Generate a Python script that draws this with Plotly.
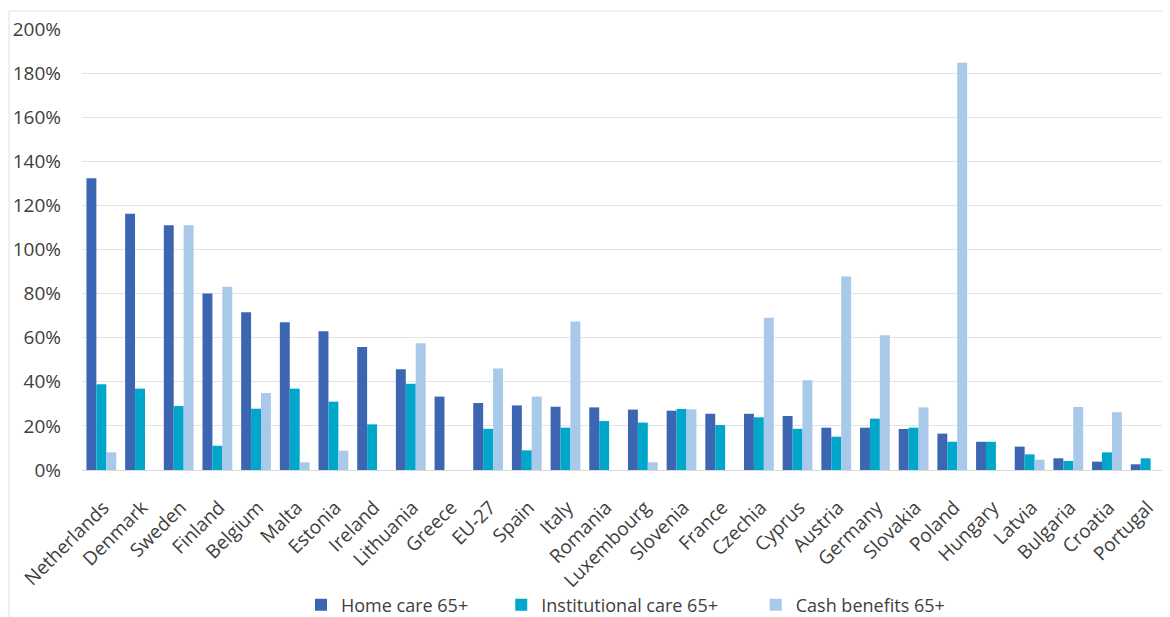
import plotly.graph_objects as go

countries = ["Netherlands", "Denmark", "Sweden", "Finland", "Belgium", "Malta", "Estonia",
             "Ireland", "Lithuania", "Greece", "EU-27", "Spain", "Italy", "Romania",
             "Luxembourg", "Slovenia", "France", "Czechia", "Cyprus", "Austria", "Germany",
             "Slovakia", "Poland", "Hungary", "Latvia", "Bulgaria", "Croatia", "Portugal"]

home_care = [132.3, 116.2, 111.0, 80.1, 71.5, 67.0, 62.9, 55.8, 45.7, 33.3, 30.4, 29.3, 28.7, 28.4,
             27.4, 26.9, 25.5, 25.5, 24.5, 19.2, 19.2, 18.6, 16.5, 12.8, 10.6, 5.3, 3.8, 2.6]
institutional_care = [38.9, 36.9, 29.0, 11.0, 27.8, 36.9, 31.0, 20.7, 39.1, None, 18.7, 8.9, 19.2, 22.2,
                      21.5, 27.7, 20.4, 23.9, 18.7, 15.1, 23.3, 19.2, 12.8, 12.8, 7.1, 4.1, 8.0, 5.3]
cash_benefits = [8.0, None, 111.0, 83.1, 34.9, 3.5, 8.8, None, 57.5, None, 46.0, 33.3, 67.4, None,
                 3.5, 27.5, None, 69.1, 40.7, 87.8, 61.1, 28.4, 184.7, None, 4.7, 28.6, 26.2, None]

y_ticks = [0, 20, 40, 60, 80, 100, 120, 140, 160, 180, 200]

NB = "\u00a0"
series = [
    ("Home care 65+", home_care, "#3D66B2", NB * 6),
    ("Institutional care 65+", institutional_care, "#00A7CB", NB * 7),
    ("Cash benefits 65+", cash_benefits, "#A9C9EB", ""),
]

fig = go.Figure()
for name, vals, col, pad in series:
    fig.add_trace(go.Bar(x=countries, y=vals, name=name + pad, marker_color=col,
                         marker_line_width=0))

W, H = 1162, 609
font_fam = "Open Sans, Lato, sans-serif"
fig.update_layout(
    width=W, height=H,
    margin=dict(l=74, r=5, t=21, b=147, autoexpand=False),
    paper_bgcolor="white", plot_bgcolor="white",
    barmode="group", bargap=0.23, bargroupgap=0,
    font=dict(family=font_fam, color="#404040", size=18),
    showlegend=True,
    legend=dict(orientation="h", xref="container", yref="container",
                x=293 / W, xanchor="left", y=(H - 597) / H, yanchor="middle",
                font=dict(size=18, color="#404040"), itemwidth=30, traceorder="normal"),
    xaxis=dict(tickangle=-45, tickfont=dict(size=19, color="#404040"), showline=True,
               linecolor="#D9D9D9", linewidth=1, ticks="", showgrid=False,
               automargin=False, ticklabelstandoff=18, ticklabelshift=2),
    yaxis=dict(range=[0, 200], tickvals=y_ticks, ticktext=[f"{v}%" for v in y_ticks],
               tickfont=dict(size=19, color="#404040"), showgrid=True, gridcolor="#E4E4E4",
               gridwidth=1, zeroline=False, ticks="", showline=False,
               automargin=False, ticklabelstandoff=20),
    shapes=[
        dict(type="line", xref="paper", yref="paper", x0=-0.0674, x1=1.01, y0=1.0408, y1=1.0408,
             line=dict(color="#E0E0E0", width=1)),
        dict(type="line", xref="paper", yref="paper", x0=-0.0674, x1=-0.0674, y0=1.0408, y1=-0.34,
             line=dict(color="#E0E0E0", width=1)),
    ],
)

fig.write_html("out.html")
